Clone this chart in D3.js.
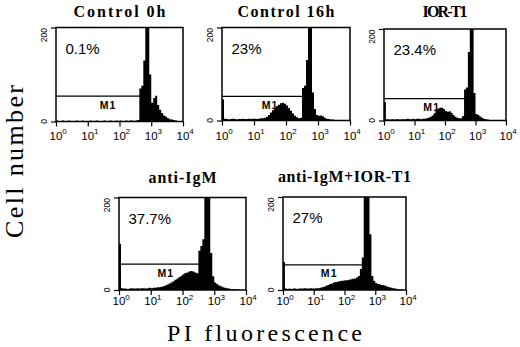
<!DOCTYPE html>
<html><head><meta charset="utf-8">
<script src="https://cdn.jsdelivr.net/npm/d3@7"></script>
<style>body{margin:0;background:#fff}</style>
</head><body>
<svg id="c" width="520" height="347"></svg>
<script>
// ---- data ----
const titles = ["Control 0h", "Control 16h", "IOR-T1", "anti-IgM", "anti-IgM+IOR-T1"];
const percents = ["0.1%", "23%", "23.4%", "37.7%", "27%"];
const binsPerDecade = 16;   // 64 channels over 10^0 .. 10^4
const control0h = [2,1,1,2,1,1,2,1,1,1, 2,1,1,2,1,1,1,2,1,1, 2,1,1,1,2,1,1,2,1,1, 2,1,2,1,1,2,1,2,2,1,
                   2,3,70,76,130,210,210,100,40,50, 55,35,25,18,13,10,7,5,4,3, 2,1,1,0];
const control16h = [45,4,3,2,3,4,3,2,3,3, 4,3,3,4,3,4,4,3,4,5, 5,6,8,12,17,22,27,31,34,37, 38,36,32,27,21,15,10,7,5,6,
                    70,75,130,215,215,60,25,12,10,11, 9,6,4,3,2,2,1,1,1,0, 0,0,0,0];
const iorT1 = [40,3,2,2,3,2,3,3,2,3, 3,3,4,3,3,4,3,4,4,3, 4,4,5,6,8,11,16,22,26,28, 28,25,21,19,20,17,12,8,6,5,
               5,10,68,72,150,215,215,60,14,12, 9,6,4,3,2,1,1,1,0,0, 0,0,0,0];
const antiIgM = [100,4,3,3,2,3,4,3,3,4, 3,4,4,3,4,5,4,5,5,6, 6,7,8,10,12,14,16,19,22,25, 28,31,34,37,38,40,41,40,38,36,
                 85,95,110,215,215,215,80,30,16,13, 10,8,6,5,4,3,2,2,1,1, 1,0,0,0];
const antiIgMIorT1 = [60,3,2,3,2,3,3,2,3,3, 3,4,3,3,4,3,3,4,4,5, 6,7,9,11,13,14,16,17,18,19, 20,20,21,21,22,23,24,25,27,30,
                      45,70,215,215,215,120,30,20,15,13, 12,11,10,9,7,6,5,4,3,2, 1,1,0,0];
const series = [control0h, control16h, iorT1, antiIgM, antiIgMIorT1];
const gateEnd = [470, 350, 470, 355, 370];      // M1 marker upper bound (fluorescence)
const gateHeight = [54, 52, 48, 56, 54];        // M1 marker drawn height (cell number)
const m1LabelAt = [44, 32, 37, 30, 32];         // M1 label position (fluorescence)
const yTickLabels = [0, 200];
const xDecades = [0, 1, 2, 3, 4];
const yLabel = "Cell number";
const xLabel = "PI fluorescence";

// ---- layout ----
const layout = [
  {x0: 56,  x1: 183, y0: 27.5, y1: 121.5, tb: 16.5, lb: 139.5, tw: 92},
  {x0: 222, x1: 350, y0: 27.5, y1: 120.5, tb: 16.5, lb: 139.5, tw: 97},
  {x0: 384, x1: 506, y0: 29,   y1: 120.5, tb: 16.5, lb: 139.5, tw: 45},
  {x0: 119, x1: 246, y0: 197.5, y1: 290,  tb: 183,  lb: 305,   tw: 68},
  {x0: 283, x1: 406, y0: 197,  y1: 290,   tb: 182,  lb: 305,   tw: 133}
];

const svg = d3.select("#c");
svg.append("rect").attr("width", 520).attr("height", 347).attr("fill", "#fff");
const SERIF = "'Liberation Serif','DejaVu Serif',serif";
const SANS = "'Liberation Sans',Arial,sans-serif";

layout.forEach((L, p) => {
  const x = d3.scaleLog().domain([1, 1e4]).range([L.x0, L.x1]);
  const y = d3.scaleLinear().domain([0, 200]).range([L.y1, L.y0]);
  const g = svg.append("g");

  const clipId = "clip" + p;
  g.append("clipPath").attr("id", clipId).append("rect")
    .attr("x", L.x0).attr("y", L.y0).attr("width", L.x1 - L.x0).attr("height", L.y1 - L.y0);

  const pts = series[p].map((v, i) => ({x: Math.pow(10, i / binsPerDecade), v}));
  pts.push({x: 1e4, v: 0});
  const area = d3.area().curve(d3.curveStepAfter)
    .x(d => x(d.x)).y0(y(0)).y1(d => y(d.v));
  g.append("path").attr("d", area(pts)).attr("fill", "#000").attr("clip-path", `url(#${clipId})`);

  // M1 gate
  const gy = y(gateHeight[p]);
  g.append("line").attr("x1", L.x0).attr("x2", x(gateEnd[p])).attr("y1", gy).attr("y2", gy)
    .attr("stroke", "#000").attr("stroke-width", 1.3);
  g.append("text").attr("x", x(m1LabelAt[p])).attr("y", gy + 12.5).attr("text-anchor", "middle")
    .attr("font-family", SANS).attr("font-size", 10.5).attr("font-weight", "bold")
    .attr("letter-spacing", 1.2).text("M1");

  // box
  g.append("rect").attr("x", L.x0).attr("y", L.y0).attr("width", L.x1 - L.x0).attr("height", L.y1 - L.y0)
    .attr("fill", "none").attr("stroke", "#000").attr("stroke-width", 1.5);

  // y axis ticks
  const ya = g.append("g").attr("transform", `translate(${L.x0},0)`);
  ya.call(d3.axisLeft(y).tickValues(d3.range(0, 201, 10)).tickSize(3).tickFormat(""));
  ya.call(d3.axisLeft(y).tickValues(yTickLabels).tickSize(5).tickFormat(""));
  ya.selectAll(".domain").remove();
  ya.selectAll("line").attr("stroke-width", 1.2);
  yTickLabels.forEach(t => {
    const top = t === d3.max(yTickLabels);
    g.append("text")
      .attr("transform", `translate(${L.x0 - 9},${top ? y(t) + 0.5 : y(t)}) rotate(-90)`)
      .attr("text-anchor", top ? "end" : "middle")
      .attr("font-family", SANS).attr("font-size", 8.5).text(t);
  });

  // x axis ticks
  const minors = [];
  for (let d = 0; d < 4; d++) for (let k = 2; k <= 9; k++) minors.push(k * Math.pow(10, d));
  const xa = g.append("g").attr("transform", `translate(0,${L.y1})`);
  xa.call(d3.axisBottom(x).tickValues(minors).tickSize(3).tickFormat(""));
  xa.call(d3.axisBottom(x).tickValues(xDecades.map(d => Math.pow(10, d))).tickSize(5).tickFormat(""));
  xa.selectAll(".domain").remove();
  xa.selectAll("line").attr("stroke-width", 1.2);
  xDecades.forEach(d => {
    const t = g.append("text").attr("x", x(Math.pow(10, d)) - 6.5).attr("y", L.lb)
      .attr("font-family", SANS).attr("font-size", 11.5);
    t.append("tspan").text("10");
    t.append("tspan").attr("dy", -5.5).attr("font-size", 8).text(d);
  });

  // title
  g.append("text").attr("x", (L.x0 + L.x1) / 2).attr("y", L.tb).attr("text-anchor", "middle")
    .attr("font-family", SERIF).attr("font-weight", "bold").attr("font-size", 16)
    .attr("textLength", L.tw).attr("lengthAdjust", "spacing").text(titles[p]);

  // percent
  g.append("text").attr("x", L.x0 + 9.5).attr("y", L.y0 + 26)
    .attr("font-family", SANS).attr("font-size", 15).text(percents[p]);
});

svg.append("text").attr("transform", "translate(23,161.5) rotate(-90)").attr("text-anchor", "middle")
  .attr("font-family", SERIF).attr("font-size", 26).attr("textLength", 153).attr("lengthAdjust", "spacing")
  .text(yLabel);
svg.append("text").attr("x", 264.5).attr("y", 340.5).attr("text-anchor", "middle")
  .attr("font-family", SERIF).attr("font-size", 24).attr("textLength", 195).attr("lengthAdjust", "spacing")
  .text(xLabel);
</script>
</body></html>
